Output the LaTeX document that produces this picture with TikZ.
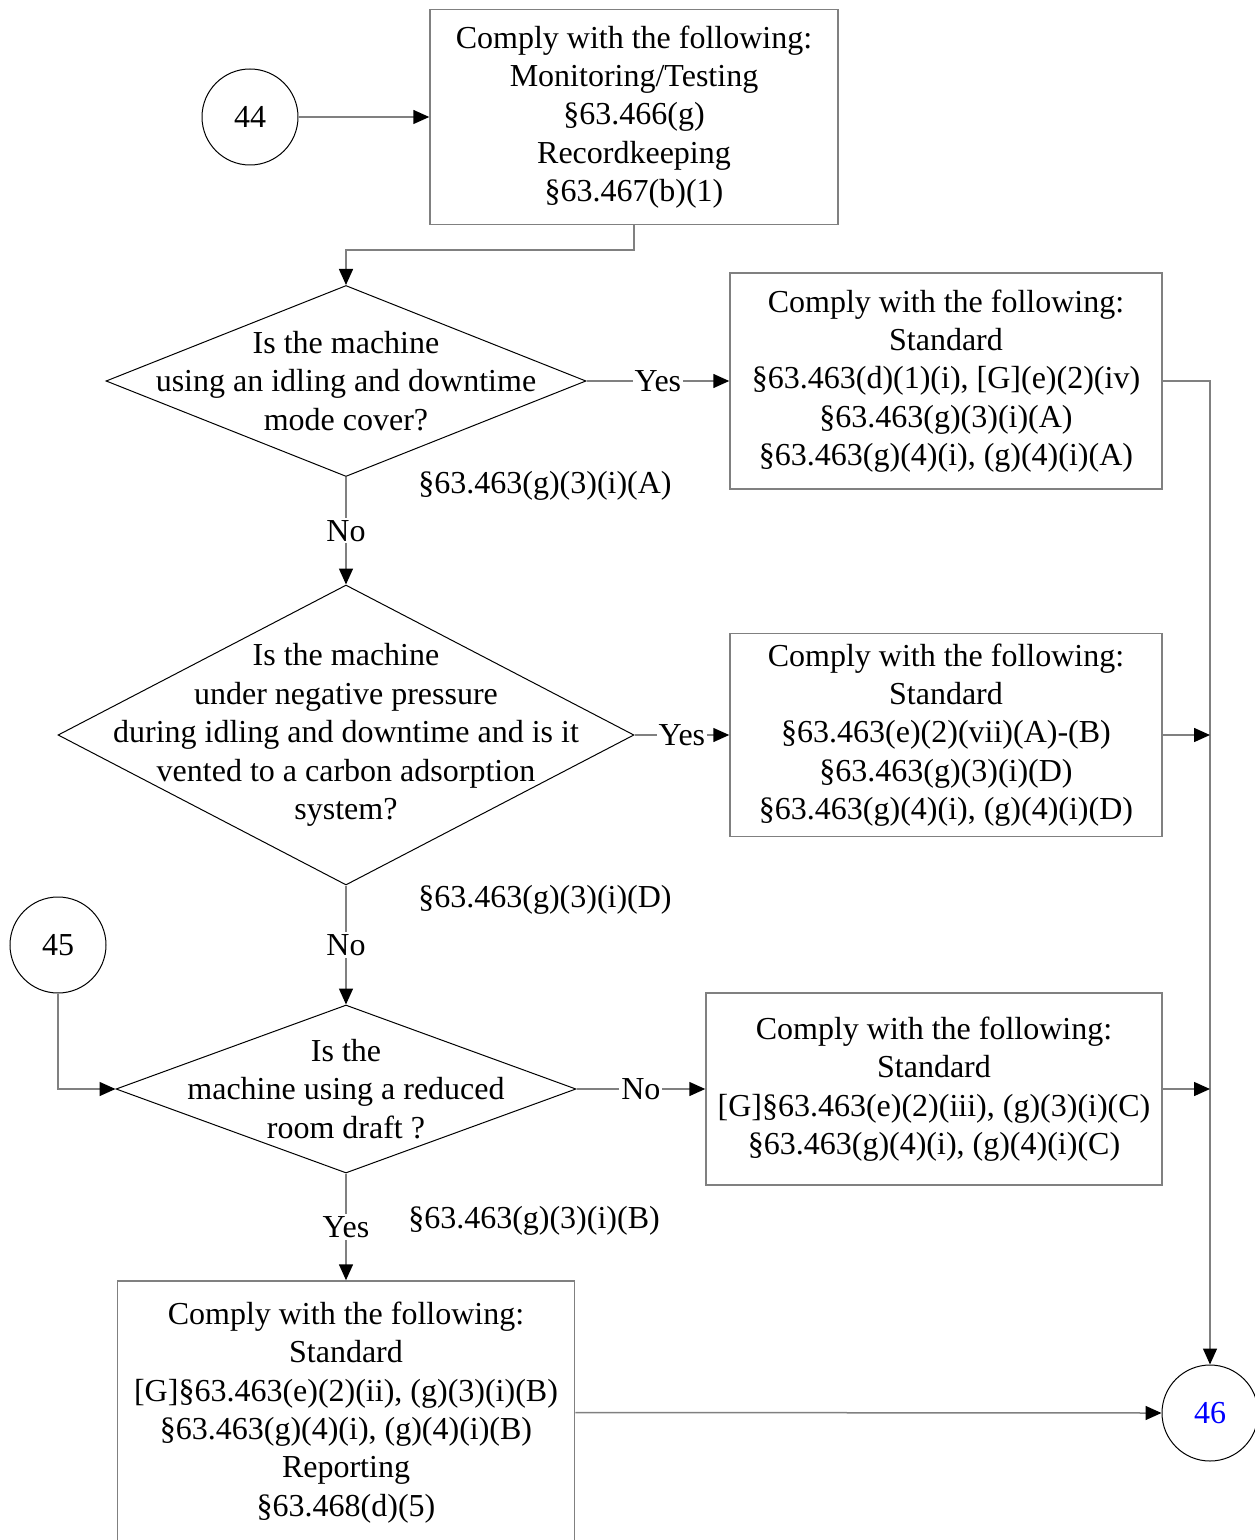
\documentclass[tikz,border=0pt]{standalone}
\usepackage{fontspec}
\setmainfont{Liberation Serif}
\usetikzlibrary{arrows.meta,positioning,shapes.geometric,calc}

\begin{document}
\begin{tikzpicture}[
  x=0.5pt, y=-0.5pt,
  txt/.style={font=\fontsize{16}{19.2}\selectfont, align=center},
  box/.style={rectangle, draw=gray, line width=0.75pt, txt, inner sep=0pt},
  decision/.style={diamond, draw=black, line width=0.5pt, inner sep=0pt},
  conn/.style={circle, draw=black, line width=0.5pt, minimum size=48pt,
               inner sep=0pt, txt},
  arr/.style={-{Triangle[length=8pt,width=7pt,color=black]}, draw=gray, line width=0.75pt},
  tag/.style={txt, fill=white, inner sep=1pt},
  ref/.style={txt, inner sep=0pt},
]
\useasboundingbox (0,0) rectangle (1254,1540);

% Connectors (off-page)
\node[conn] (c44) at (250,117) {44};
\node[conn] (c45) at (58,945) {45};
\node[conn, text=blue] (c46) at (1210,1413) {46};

% Top box
\node[box, minimum width=204pt, minimum height=107.5pt] (top) at (634,117)
  {Comply with the following:\\Monitoring/Testing\\§63.466(g)\\Recordkeeping\\§63.467(b)(1)};

% Decisions
\node[decision, minimum width=240pt, minimum height=95.5pt] (d1) at (346,381) {};
\node[txt] (d1t) at (d1.center) {Is the machine\\using an idling and downtime\\mode cover?};
\node[decision, minimum width=288pt, minimum height=150pt] (d2) at (346,735) {};
\node[txt] (d2t) at (d2.center)
  {Is the machine\\under negative pressure\\during idling and downtime and is it\\vented to a carbon adsorption\\system?};
\node[decision, minimum width=230pt, minimum height=84pt] (d3) at (346,1089) {};
\node[txt] (d3t) at (d3.center) {Is the\\machine using a reduced\\room draft ?};

% Result boxes
\node[box, minimum width=216pt, minimum height=108pt] (b2) at (946,381)
  {Comply with the following:\\Standard\\§63.463(d)(1)(i), [G](e)(2)(iv)\\§63.463(g)(3)(i)(A)\\§63.463(g)(4)(i), (g)(4)(i)(A)};
\node[box, minimum width=216pt, minimum height=101.5pt] (b3) at (946,735)
  {Comply with the following:\\Standard\\§63.463(e)(2)(vii)(A)-(B)\\§63.463(g)(3)(i)(D)\\§63.463(g)(4)(i), (g)(4)(i)(D)};
\node[box, minimum width=228pt, minimum height=96pt] (b4) at (934,1089)
  {Comply with the following:\\Standard\\{}[G]§63.463(e)(2)(iii), (g)(3)(i)(C)\\§63.463(g)(4)(i), (g)(4)(i)(C)};
\node[box, minimum width=228.5pt, minimum height=131.5pt] (b5) at (346,1412.5)
  {Comply with the following:\\Standard\\{}[G]§63.463(e)(2)(ii), (g)(3)(i)(B)\\§63.463(g)(4)(i), (g)(4)(i)(B)\\Reporting\\§63.468(d)(5)};

% Rule references
\node[ref] (r1) at (545,486) {§63.463(g)(3)(i)(A)};
\node[ref] (r2) at (545,900) {§63.463(g)(3)(i)(D)};
\node[ref] (r3) at (534,1221) {§63.463(g)(3)(i)(B)};

% Flow
\draw[arr] (c44) -- (top);
\draw[arr] (top.south) -- ++(0,25) -| (d1.north);
\draw[arr] (d1.east) -- node[tag]{Yes} (b2.west);
\draw[arr] (d1.south) -- node[tag]{No} (d2.north);
\draw[arr] (d2.east) -- node[tag]{Yes} (b3.west);
\draw[arr] (d2.south) -- node[tag]{No} (d3.north);
\draw[arr] (c45.south) |- (d3.west);
\draw[arr] (d3.east) -- node[tag]{No} (b4.west);
\draw[arr] (d3.south) -- node[tag]{Yes} (b5.north);

% To connector 46
\draw[arr] (b2.east) -| (c46.north);
\draw[arr] (b3.east) -- (b3.east -| c46.north);
\draw[arr] (b4.east) -- (b4.east -| c46.north);
\draw[arr] (b5.east) -- (c46.west);

\end{tikzpicture}
\end{document}
